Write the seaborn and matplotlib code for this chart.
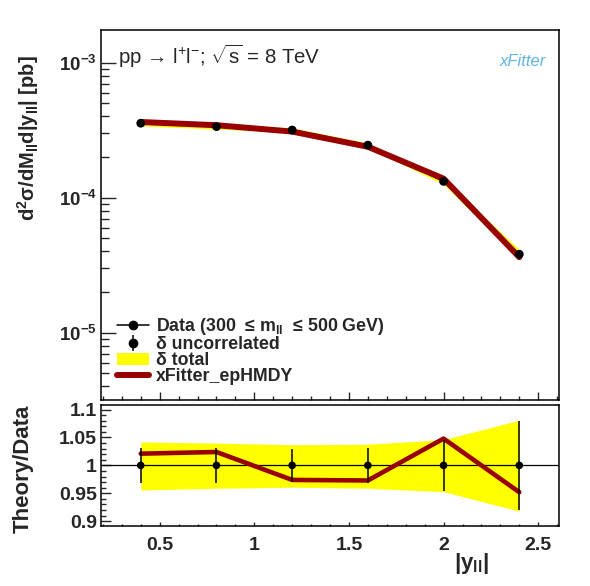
import numpy as np
import pandas as pd
import seaborn as sns
import matplotlib
matplotlib.use("Agg")
import matplotlib.pyplot as plt
from matplotlib.lines import Line2D
from matplotlib.patches import Patch
from matplotlib.ticker import FixedLocator, MultipleLocator, LogLocator, NullFormatter

# |y_ll| bins (bin centres)
y_ll = [0.4, 0.8, 1.2, 1.6, 2.0, 2.4]
# measured cross section [pb]
sigma_data = [3.56e-4, 3.36e-4, 3.17e-4, 2.45e-4, 1.32e-4, 3.81e-5]
# theory / data
ratio_theory = [1.021, 1.024, 0.974, 0.973, 1.048, 0.952]
# relative uncorrelated uncertainty
unc_rel = [0.032, 0.032, 0.030, 0.032, 0.046, 0.079]
# total uncertainty band (relative, up / down)
tot_up = [0.042, 0.040, 0.037, 0.038, 0.046, 0.081]
tot_dn = [0.044, 0.041, 0.039, 0.041, 0.047, 0.082]

yticks_top = [1e-5, 1e-4, 1e-3]
ytick_top_labels = ["10$^{-5}$", "10$^{-4}$", "10$^{-3}$"]
yticks_bot = [0.9, 0.95, 1.0, 1.05, 1.1]
ytick_bot_labels = ["0.9", "0.95", "1", "1.05", "1.1"]
xticks = [0.5, 1.0, 1.5, 2.0, 2.5]
xtick_labels = ["0.5", "1", "1.5", "2", "2.5"]

sns.set_theme(style="ticks")
plt.rcParams['font.family'] = ['Liberation Sans', 'DejaVu Sans']
plt.rcParams['mathtext.default'] = 'regular'
plt.rcParams['mathtext.fontset'] = 'custom'
plt.rcParams['mathtext.rm'] = 'Liberation Sans'
plt.rcParams['mathtext.bf'] = 'Liberation Sans:bold'

df = pd.DataFrame({"y": y_ll, "data": sigma_data, "ratio": ratio_theory,
                   "unc": unc_rel, "up": tot_up, "dn": tot_dn})
df["theory"] = df["data"] * df["ratio"]

RED = "#990000"
YEL = "#ffff00"

fig = plt.figure(figsize=(5.9, 5.86), dpi=100)
ax1 = fig.add_axes([0.1712, 0.3174, 0.7763, 0.6314])
ax2 = fig.add_axes([0.1712, 0.1024, 0.7763, 0.2073])

# ---- top panel
ax1.fill_between(df["y"], df["data"] * (1 - df["dn"]), df["data"] * (1 + df["up"]),
                 color=YEL, lw=0, zorder=1)
sns.lineplot(data=df, x="y", y="data", ax=ax1, color="black", lw=1.1, zorder=2)
sns.lineplot(data=df, x="y", y="theory", ax=ax1, color=RED, lw=4.3, zorder=3)
ax1.errorbar(df["y"], df["data"], yerr=df["data"] * df["unc"], fmt="none",
             ecolor="black", elinewidth=1.1, zorder=4)
sns.scatterplot(data=df, x="y", y="data", ax=ax1, color="black", s=40,
                edgecolor="none", zorder=5)
ax1.set_yscale("log")
ax1.set_ylim(3.17e-6, 1.746e-3)
ax1.set_xlim(0.19, 2.61)
ax1.yaxis.set_major_locator(FixedLocator(yticks_top))
ax1.set_yticklabels(ytick_top_labels, fontsize=13.5, fontweight="bold")
ax1.yaxis.set_minor_locator(LogLocator(base=10, subs=np.arange(2, 10)))
ax1.yaxis.set_minor_formatter(NullFormatter())
ax1.set_xticks(xticks)
ax1.set_xticklabels([])
ax1.xaxis.set_minor_locator(MultipleLocator(0.1))
ax1.tick_params(axis="y", which="major", direction="in", length=10.8, width=1.0, pad=3)
ax1.tick_params(axis="y", which="minor", direction="in", length=5.4, width=1.0)
ax1.tick_params(axis="x", which="major", direction="in", length=5.8, width=1.0)
ax1.tick_params(axis="x", which="minor", direction="in", length=2.9, width=1.0)
ax1.set_xlabel("")
ax1.set_ylabel("")

ax1.text(0.038, 0.965, "pp \u2192 l$^{+}$l$^{-}$; $\\sqrt{s}$ = 8 TeV", transform=ax1.transAxes,
         fontsize=14.7, ha="left", va="top")
ax1.text(0.92, 0.915, "xFitter", transform=ax1.transAxes, fontsize=12,
         style="italic", color="#5fb4e6", ha="center", va="center")

h_data = Line2D([], [], color="black", lw=1.1, marker="o", ms=6)
h_unc = (Line2D([], [], color="black", ls="none", marker="o", ms=6),
         Line2D([], [], color="black", ls="none", marker="|", ms=11, mew=1.1))
h_tot = Patch(facecolor=YEL, edgecolor="none")
h_th = Line2D([], [], color=RED, lw=4.3)
ax1.legend([h_data, h_unc, h_tot, h_th],
           ["Data (300  \u2264 m$_{ll}$  \u2264 500 GeV)", "\u03b4 uncorrelated",
            "\u03b4 total", "xFitter_epHMDY"],
           loc="lower left", bbox_to_anchor=(0.035, 0.04), frameon=False,
           prop={"weight": "bold", "size": 12.8}, handlelength=1.8,
           handletextpad=0.4, labelspacing=-0.05, borderpad=0, borderaxespad=0)

# ---- ratio panel
ax2.fill_between(df["y"], 1 - df["dn"], 1 + df["up"], color=YEL, lw=0, zorder=1)
ax2.axhline(1.0, color="black", lw=0.9, zorder=2)
sns.lineplot(data=df, x="y", y="ratio", ax=ax2, color=RED, lw=3.3, zorder=3)
ax2.errorbar(df["y"], np.ones(len(df)), yerr=df["unc"], fmt="none",
             ecolor="black", elinewidth=1.1, zorder=4)
sns.scatterplot(x=df["y"], y=np.ones(len(df)), ax=ax2, color="black", s=30,
                edgecolor="none", zorder=5)
ax2.set_xlim(0.19, 2.61)
ax2.set_ylim(0.8915, 1.109)
ax2.set_yticks(yticks_bot)
ax2.set_yticklabels(ytick_bot_labels, fontsize=14, fontweight="bold")
ax2.yaxis.set_minor_locator(MultipleLocator(0.01))
ax2.set_xticks(xticks)
ax2.set_xticklabels(xtick_labels, fontsize=14, fontweight="bold")
ax2.xaxis.set_minor_locator(MultipleLocator(0.1))
ax2.tick_params(axis="y", which="major", direction="in", length=7.2, width=1.0, pad=3)
ax2.tick_params(axis="y", which="minor", direction="in", length=3.6, width=1.0)
ax2.tick_params(axis="x", which="major", direction="in", length=3.2, width=1.0, pad=8)
ax2.tick_params(axis="x", which="minor", direction="in", length=1.8, width=1.0)
ax2.set_xlabel("")
ax2.set_ylabel("")

for ax in (ax1, ax2):
    for sp in ax.spines.values():
        sp.set_visible(True)
        sp.set_linewidth(1.1)
        sp.set_color("black")

fig.text(0.047, 1 - 138.5 / 586, "d$^{2}$\u03c3/dM$_{ll}$d|y$_{ll}$| [pb]",
         rotation=90, ha="center", va="center", fontsize=14.5, fontweight="bold")
fig.text(0.040, 1 - 469 / 586, "Theory/Data", rotation=90, ha="center",
         va="center", fontsize=16, fontweight="bold")
fig.text(489 / 590, 1 - 564 / 586, "|y$_{ll}$|", ha="right", va="center",
         fontsize=16, fontweight="bold")

fig.savefig("out.png", dpi=100)
